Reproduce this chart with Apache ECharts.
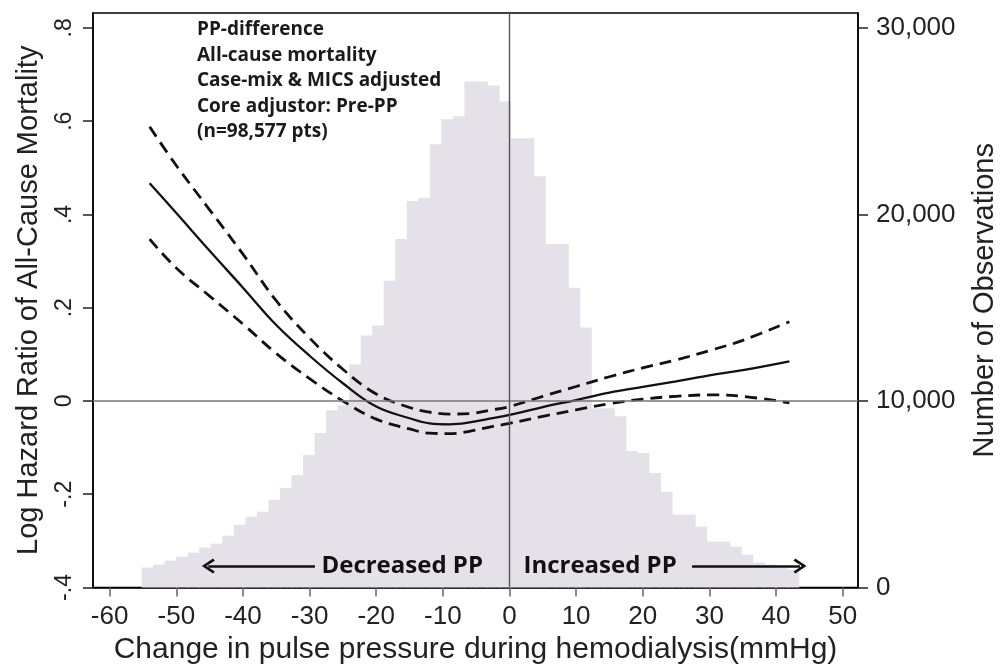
<!DOCTYPE html>
<html>
<head>
<meta charset="utf-8">
<script src="https://cdn.jsdelivr.net/npm/echarts@6/dist/echarts.min.js"></script>
<style>html,body{margin:0;padding:0;background:#fff}#c{width:1000px;height:666px}</style>
</head>
<body>
<div id="c"></div>
<script>
// ---- data ----
const histStart = -55.2;      // left edge of first histogram bin (mmHg)
const binWidth = 1.73;        // histogram bin width (mmHg)
const histCounts = [1070,1230,1440,1655,1870,2140,2350,2780,3360,3790,
  4060,4700,5340,6030,7100,8280,9500,9770,11960,13510,
  14040,16450,18690,20720,20880,23760,25100,25260,27130,27130,
  26910,26060,24080,24080,22050,18420,18420,16070,13940,9610,
  9610,9180,7320,7210,6140,5130,3900,3900,3260,2460,
  2460,2190,1760,1340,1230,1070,960];
const curveX   = [-54,-50,-45,-40,-35,-30,-25,-20,-15,-12,-9,-6,-3,0,5,10,15,20,25,30,35,42];
const estimate = [0.467,0.403,0.322,0.243,0.163,0.097,0.038,-0.012,-0.037,-0.048,-0.050,-0.046,-0.038,-0.030,-0.013,0.002,0.018,0.030,0.042,0.055,0.066,0.085];
const upperCI  = [0.588,0.505,0.410,0.315,0.215,0.135,0.068,0.015,-0.014,-0.024,-0.028,-0.027,-0.020,-0.012,0.010,0.031,0.052,0.071,0.088,0.108,0.130,0.170];
const lowerCI  = [0.347,0.285,0.225,0.165,0.102,0.048,0.000,-0.039,-0.060,-0.069,-0.070,-0.065,-0.056,-0.048,-0.033,-0.019,-0.006,0.004,0.010,0.013,0.010,-0.004];
const xTicks = [-60,-50,-40,-30,-20,-10,0,10,20,30,40,50];
const leftTicks = [-0.4,-0.2,0,0.2,0.4,0.6,0.8];
const rightTicks = [0,10000,20000,30000];
const noteLines = ['PP-difference','All-cause mortality','Case-mix & MICS adjusted','Core adjustor: Pre-PP','(n=98,577 pts)'];
const arrowY = -0.354;
const decArrow = [-29.2, -45.2];
const incArrow = [27.4, 43.6];
const decLabelX = -16.1, incLabelX = 13.6;

// ---- build ----
const histData = histCounts.map((c, i) => [histStart + i * binWidth, histStart + (i + 1) * binWidth, c]);
const pairs = arr => curveX.map((x, i) => [x, arr[i]]);
const chevron = 'path://M50,0 L100,78 L86,90 L50,32 L14,90 L0,78 Z';
const fam = '"Liberation Sans", Arial, sans-serif';

const chart = echarts.init(document.getElementById('c'), null, {renderer: 'canvas'});
chart.setOption({
  animation: false,
  backgroundColor: '#fff',
  grid: {left: 93, right: 142, top: 13, bottom: 78.5, show: true, borderColor: '#000', borderWidth: 1.5,
    backgroundColor: 'transparent', containLabel: false, outerBoundsMode: 'none'},
  xAxis: {
    type: 'value', min: -62.5, max: 52.3,
    axisLine: {show: true, onZero: false, lineStyle: {color: '#000', width: 1.5}},
    axisTick: {show: true, customValues: xTicks, length: 9, lineStyle: {color: '#666', width: 1.5}},
    axisLabel: {customValues: xTicks, fontSize: 26, color: '#222', margin: 16, fontFamily: fam},
    splitLine: {show: false},
    name: 'Change in pulse pressure during hemodialysis(mmHg)',
    nameLocation: 'middle', nameGap: 46,
    nameTextStyle: {fontSize: 30, color: '#222', fontFamily: fam}
  },
  yAxis: [{
    type: 'value', min: -0.4, max: 0.832, position: 'left',
    axisLine: {show: true, onZero: false, lineStyle: {color: '#000', width: 1.5}},
    axisTick: {show: true, customValues: leftTicks, length: 10, lineStyle: {color: '#222', width: 1.5}},
    axisLabel: {customValues: leftTicks, rotate: 90, fontSize: 23, color: '#222', margin: 17, fontFamily: fam,
      formatter: v => { if (Math.abs(v) < 1e-9) return '0'; return (v < 0 ? '-' : '') + Math.abs(v).toFixed(1).replace(/^0/, ''); }},
    splitLine: {show: false},
    name: 'Log Hazard Ratio of All-Cause Mortality',
    nameLocation: 'middle', nameRotate: 90, nameGap: 50,
    nameTextStyle: {fontSize: 29, color: '#222', fontFamily: fam}
  }, {
    type: 'value', min: 0, max: 30800, position: 'right',
    axisLine: {show: true, onZero: false, lineStyle: {color: '#000', width: 1.5}},
    axisTick: {show: true, customValues: rightTicks, length: 10, lineStyle: {color: '#222', width: 1.5}},
    axisLabel: {customValues: rightTicks, fontSize: 26, color: '#222', margin: 18, fontFamily: fam,
      formatter: v => v.toLocaleString('en-US')},
    splitLine: {show: false},
    name: 'Number of Observations',
    nameLocation: 'middle', nameRotate: 90, nameGap: 112,
    nameTextStyle: {fontSize: 29, color: '#222', fontFamily: fam}
  }],
  graphic: [{
    type: 'text', left: 197, top: 17, z: 10,
    style: {text: noteLines.join('\n'), font: 'bold 19px "Open Sans", sans-serif', lineHeight: 25.5, fill: '#1a1a1a'}
  }],
  series: [{
    type: 'custom', name: 'Observations', xAxisIndex: 0, yAxisIndex: 1, z: 1,
    encode: {x: [0, 1], y: 2},
    renderItem: (params, api) => {
      const p0 = api.coord([api.value(0), api.value(2)]);
      const p1 = api.coord([api.value(1), 0]);
      return {type: 'rect', shape: {x: p0[0], y: p0[1], width: p1[0] - p0[0] + 0.6, height: p1[1] - p0[1]},
        style: {fill: '#e4e1e8'}};
    },
    data: histData
  }, {
    type: 'line', name: 'Estimate', yAxisIndex: 0, z: 4, smooth: 0.4, symbol: 'none',
    lineStyle: {color: '#111', width: 2.3},
    data: pairs(estimate),
    markLine: {
      silent: true, symbol: ['none', 'none'], label: {show: false},
      data: [
        [{coord: [-62.5, 0], lineStyle: {color: '#777', width: 1.6, type: 'solid'}}, {coord: [52.3, 0]}],
        [{coord: [0, -0.4], lineStyle: {color: '#555', width: 1.4, type: 'solid'}}, {coord: [0, 0.832]}],
        [{coord: [decArrow[0], arrowY], symbol: 'none', lineStyle: {color: '#111', width: 2.5, type: 'solid'}},
         {coord: [decArrow[1], arrowY], symbol: chevron, symbolSize: [15, 13]}],
        [{coord: [incArrow[0], arrowY], symbol: 'none', lineStyle: {color: '#111', width: 2.5, type: 'solid'}},
         {coord: [incArrow[1], arrowY], symbol: chevron, symbolSize: [15, 13]}]
      ]
    },
    markPoint: {
      silent: true, symbol: 'circle', symbolSize: 0,
      label: {show: true, position: 'inside', formatter: '{b}', color: '#111',
        fontFamily: '"Open Sans", sans-serif', fontWeight: 'bold', fontSize: 24},
      data: [{name: 'Decreased PP', coord: [decLabelX, arrowY]}, {name: 'Increased PP', coord: [incLabelX, arrowY]}]
    }
  }, {
    type: 'line', name: 'Upper 95% CI', yAxisIndex: 0, z: 4, smooth: 0.4, symbol: 'none',
    lineStyle: {color: '#111', width: 2.8, type: [12, 7]},
    data: pairs(upperCI)
  }, {
    type: 'line', name: 'Lower 95% CI', yAxisIndex: 0, z: 4, smooth: 0.4, symbol: 'none',
    lineStyle: {color: '#111', width: 2.8, type: [12, 7]},
    data: pairs(lowerCI)
  }]
});
</script>
</body>
</html>
